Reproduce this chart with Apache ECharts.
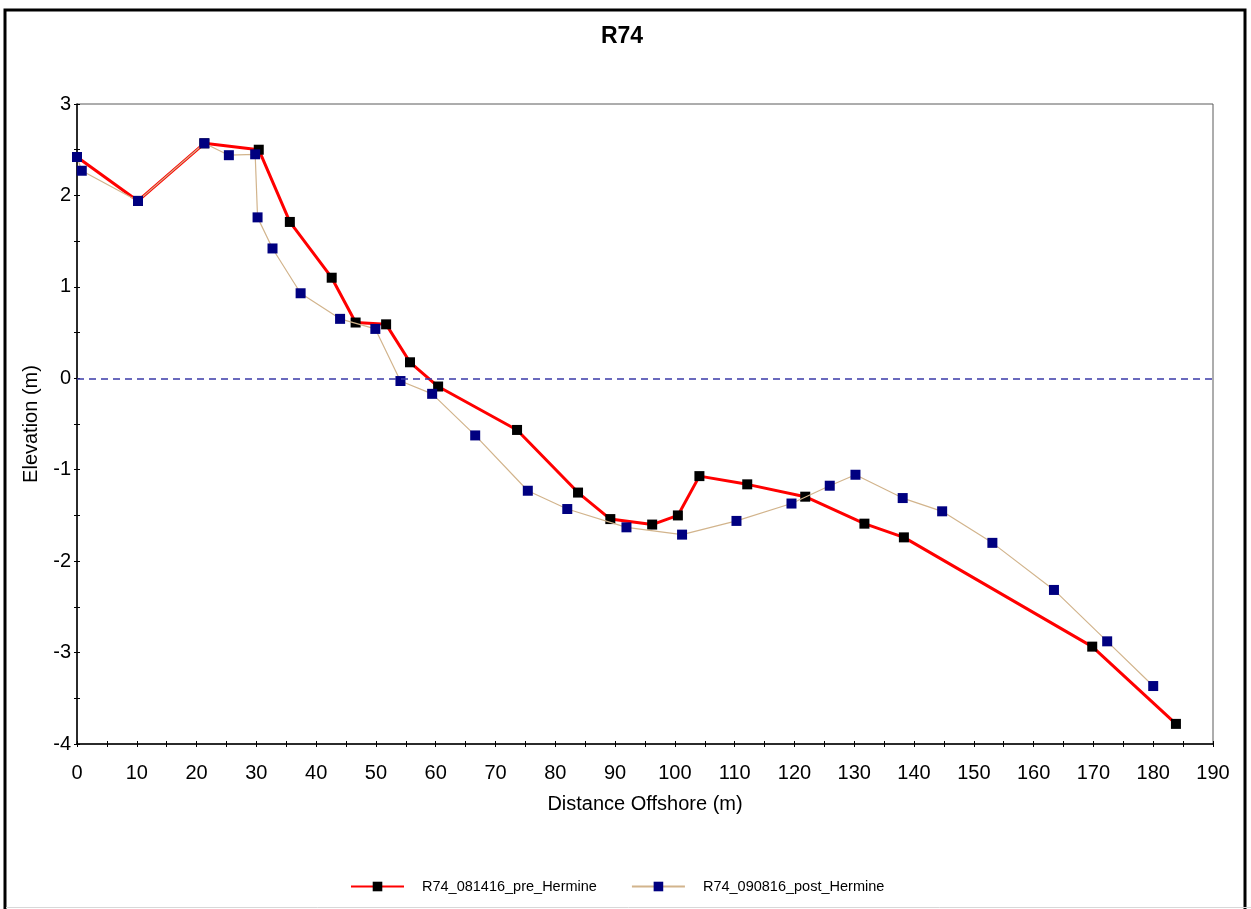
<!DOCTYPE html>
<html>
<head>
<meta charset="utf-8">
<title>R74</title>
<script src="https://cdn.jsdelivr.net/npm/echarts@6/dist/echarts.min.js"></script>
<style>
  html, body { margin: 0; padding: 0; background: #fff; }
  #profile-chart { width: 1251px; height: 909px; }
</style>
</head>
<body>
<div id="profile-chart"></div>
<script>
// distance offshore (m) and elevation (m), pre storm survey
const preDist = [0, 10.2, 21.3, 30.4, 35.6, 42.6, 46.6, 51.7, 55.7, 60.4, 73.6, 83.8, 89.2, 96.2, 100.5, 104.1, 112.1, 121.8, 131.7, 138.3, 169.8, 183.8];
const preElev = [2.42, 1.94, 2.57, 2.50, 1.71, 1.10, 0.61, 0.59, 0.175, -0.09, -0.565, -1.25, -1.54, -1.60, -1.50, -1.07, -1.16, -1.295, -1.59, -1.74, -2.935, -3.78];

// post storm survey
const postDist = [0, 0.8, 10.2, 21.3, 25.4, 29.8, 30.2, 32.7, 37.4, 44.0, 49.9, 54.1, 59.4, 66.6, 75.4, 82.0, 91.9, 101.2, 110.3, 119.5, 125.9, 130.2, 138.1, 144.7, 153.1, 163.4, 172.3, 180.0];
const postElev = [2.42, 2.27, 1.94, 2.57, 2.44, 2.45, 1.76, 1.42, 0.93, 0.65, 0.54, -0.03, -0.17, -0.625, -1.23, -1.43, -1.63, -1.71, -1.56, -1.37, -1.175, -1.055, -1.31, -1.455, -1.80, -2.315, -2.877, -3.366];

const seriesNames = ['R74_081416_pre_Hermine', 'R74_090816_post_Hermine'];

(function () {
  const font = 'Arial, "Liberation Sans", sans-serif';
  const pair = (xs, ys) => xs.map((x, i) => [x, ys[i]]);

  // second set of axes only adds the inner half of each tick so they cross the line
  const xBase = { type: 'value', min: 0, max: 190, interval: 10 };
  const yBase = { type: 'value', min: -4, max: 3, interval: 1 };
  const tick = { show: true, length: 3, lineStyle: { color: '#000' } };
  const minor = { show: true, splitNumber: 2, length: 3, lineStyle: { color: '#000' } };

  const option = {
    backgroundColor: '#fff',
    animation: false,
    title: {
      text: 'R74',
      left: 617,
      top: 20,
      textAlign: 'center',
      textStyle: { fontFamily: font, fontSize: 23, fontWeight: 'bold', color: '#000' }
    },
    legend: {
      bottom: 15,
      left: 350,
      padding: 0,
      itemWidth: 53,
      itemHeight: 12,
      itemGap: 34,
      data: seriesNames,
      textStyle: { fontFamily: font, fontSize: 14.5, color: '#000', padding: [0, 0, 0, 13] }
    },
    grid: {
      left: 77, top: 104, right: 38, bottom: 165,
      show: true, borderColor: '#5a5a5a', borderWidth: 1
    },
    xAxis: [
      Object.assign({}, xBase, {
        name: 'Distance Offshore (m)',
        nameLocation: 'middle',
        nameGap: 50,
        nameTextStyle: { fontFamily: font, fontSize: 20, color: '#000' },
        axisLine: { show: true, onZero: false, lineStyle: { color: '#000', width: 1.5 } },
        axisTick: tick,
        minorTick: minor,
        axisLabel: { fontFamily: font, fontSize: 20, color: '#000', margin: 19 },
        splitLine: { show: false }
      }),
      Object.assign({}, xBase, {
        position: 'bottom',
        axisLine: { show: false, onZero: false },
        axisTick: Object.assign({}, tick, { inside: true }),
        minorTick: minor,
        axisLabel: { show: false },
        splitLine: { show: false }
      })
    ],
    yAxis: [
      Object.assign({}, yBase, {
        name: 'Elevation (m)',
        nameLocation: 'middle',
        nameGap: 36,
        nameTextStyle: { fontFamily: font, fontSize: 20, color: '#000' },
        axisLine: { show: true, onZero: false, lineStyle: { color: '#000', width: 1.5 } },
        axisTick: tick,
        minorTick: minor,
        axisLabel: { fontFamily: font, fontSize: 20, color: '#000', margin: 6 },
        splitLine: { show: false }
      }),
      Object.assign({}, yBase, {
        position: 'left',
        axisLine: { show: false, onZero: false },
        axisTick: Object.assign({}, tick, { inside: true }),
        minorTick: minor,
        axisLabel: { show: false },
        splitLine: { show: false }
      })
    ],
    graphic: [
      {
        type: 'rect',
        shape: { x: 5, y: 10, width: 1240, height: 940 },
        style: { fill: null, stroke: '#000', lineWidth: 3 },
        silent: true
      },
      {
        type: 'line',
        shape: { x1: 6, y1: 907.5, x2: 1251, y2: 907.5 },
        style: { stroke: '#d8d8d8', lineWidth: 1 },
        silent: true
      }
    ],
    series: [
      {
        name: seriesNames[0],
        type: 'line',
        data: pair(preDist, preElev),
        symbol: 'rect',
        symbolSize: 10,
        itemStyle: { color: '#000' },
        lineStyle: { color: '#ff0000', width: 3 },
        markLine: {
          silent: true,
          symbol: 'none',
          label: { show: false },
          lineStyle: { color: '#3a3aa8', type: [7, 5], width: 1.5 },
          data: [{ yAxis: 0 }]
        },
        z: 3
      },
      {
        name: seriesNames[1],
        type: 'line',
        data: pair(postDist, postElev),
        symbol: 'rect',
        symbolSize: 10,
        itemStyle: { color: '#000080' },
        lineStyle: { color: '#d2b48c', width: 1.2 },
        z: 4
      }
    ]
  };

  const chart = echarts.init(document.getElementById('profile-chart'));
  chart.setOption(option);
})();
</script>
</body>
</html>
